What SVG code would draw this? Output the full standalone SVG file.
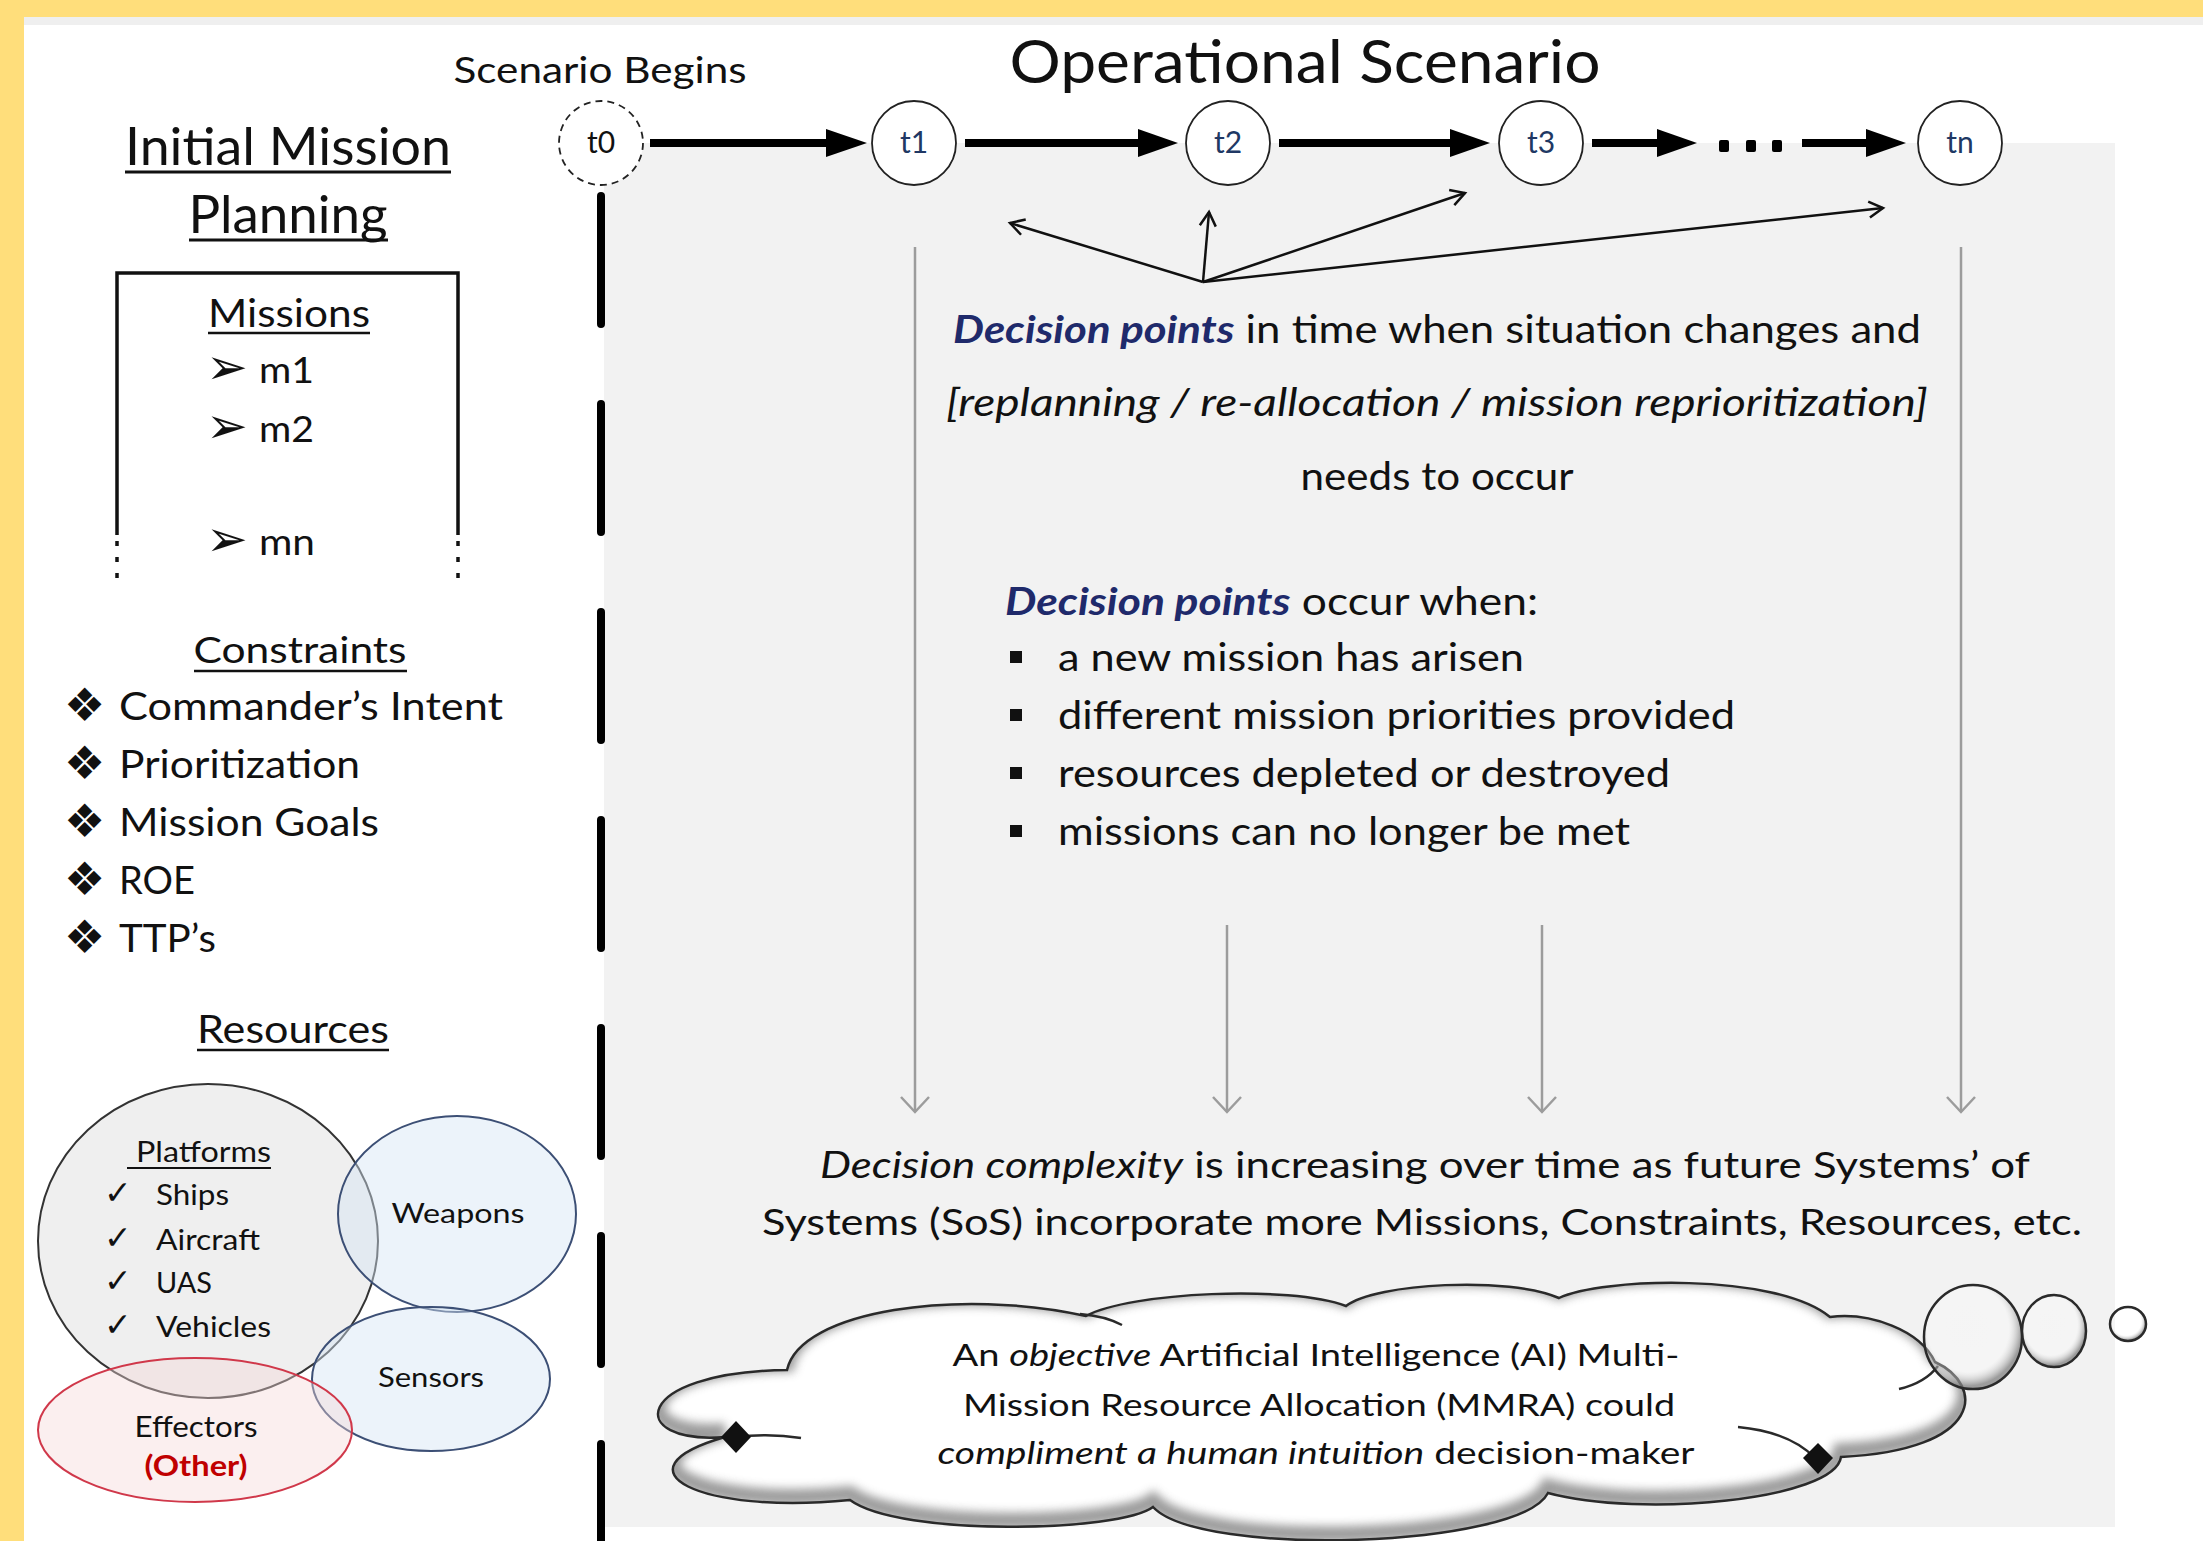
<svg xmlns="http://www.w3.org/2000/svg" width="2203" height="1541" viewBox="0 0 2203 1541">
<style>
  text { font-family: Lato, "Liberation Sans", sans-serif; fill: #111; }
  .sym { font-family: "DejaVu Sans", sans-serif; fill: #111; }
  .tl { font-size: 30px; fill: #203864; text-anchor: middle; }
  .ul { stroke: #111; stroke-width: 3; }
  .shaft { stroke: #000; stroke-width: 8; fill: none; }
  .head { fill: #000; }
  .dec { stroke: #111; stroke-width: 2.5; fill: none; marker-end: url(#openBlack); }
  .gray { stroke: #9c9c9c; stroke-width: 2.5; fill: none; marker-end: url(#openGray); }
  .dp { font-weight: bold; font-style: italic; fill: #1f2a6b; }
  .it { font-style: italic; }
  .node { fill: #fff; stroke: #222; stroke-width: 1.8; }
</style>
<defs>
  <marker id="openBlack" markerUnits="userSpaceOnUse" markerWidth="40" markerHeight="40" refX="20" refY="20" orient="auto" overflow="visible">
    <path d="M6,12 L20,20 L6,28" fill="none" stroke="#111" stroke-width="2.5"/>
  </marker>
  <marker id="openGray" markerUnits="userSpaceOnUse" markerWidth="40" markerHeight="40" refX="20" refY="20" orient="auto" overflow="visible">
    <path d="M5,6 L20,20 L5,34" fill="none" stroke="#9c9c9c" stroke-width="2.5"/>
  </marker>
  <filter id="blur" x="-10%" y="-10%" width="120%" height="120%">
    <feGaussianBlur stdDeviation="5"/>
  </filter>
  <radialGradient id="bub" cx="45%" cy="42%" r="55%">
    <stop offset="0" stop-color="#ffffff" stop-opacity="0.2"/>
    <stop offset="0.75" stop-color="#ffffff" stop-opacity="0.25"/>
    <stop offset="1" stop-color="#808080" stop-opacity="0.75"/>
  </radialGradient>
  <path id="cloudPath" d="M725,1437 C625,1445 630,1372 787,1370 C800,1310 960,1288 1086,1316 C1130,1292 1290,1285 1346,1306 C1375,1283 1510,1276 1559,1298 C1600,1278 1775,1272 1830,1317 C1870,1312 1920,1330 1935,1362 C1985,1385 1985,1450 1841,1457 C1835,1500 1640,1518 1548,1493 C1520,1548 1200,1558 1153,1507 C1120,1532 900,1537 850,1500 C700,1515 610,1470 725,1437 Z"/>
  <clipPath id="cloudClip"><use href="#cloudPath"/></clipPath>
</defs>

<!-- background -->
<rect x="0" y="0" width="2203" height="1541" fill="#FFDE7B"/>
<rect x="24" y="17" width="2179" height="1524" fill="#ffffff"/>
<rect x="24" y="17" width="2179" height="8" fill="#efefef"/>
<rect x="604" y="143" width="1511" height="1384" fill="#f2f2f2"/>

<!-- scenario dashed divider -->
<line x1="601" y1="196" x2="601" y2="1545" stroke="#000" stroke-width="8" stroke-linecap="round" stroke-dasharray="128 80"/>

<!-- titles -->
<g id="title-scenario-begins"><text x="600" y="83" font-size="36" text-anchor="middle" textLength="293" lengthAdjust="spacingAndGlyphs">Scenario Begins</text></g>
<g id="title-operational"><text x="1305" y="83" font-size="60" text-anchor="middle" textLength="591" lengthAdjust="spacingAndGlyphs">Operational Scenario</text></g>

<!-- Initial Mission Planning -->
<g id="initial-mission-planning">
  <text x="288" y="165" font-size="52" text-anchor="middle" textLength="326" lengthAdjust="spacingAndGlyphs">Initial Mission</text>
  <line class="ul" x1="125" y1="172" x2="451" y2="172"/>
  <text x="288" y="233" font-size="52" text-anchor="middle" textLength="199" lengthAdjust="spacingAndGlyphs">Planning</text>
  <line class="ul" x1="189" y1="240" x2="388" y2="240"/>
</g>

<!-- Missions box -->
<g id="missions">
  <path d="M117,535 L117,273 L458,273 L458,535" fill="none" stroke="#111" stroke-width="3.5"/>
  <line x1="117" y1="541" x2="117" y2="582" stroke="#111" stroke-width="3.5" stroke-dasharray="5 11"/>
  <line x1="458" y1="541" x2="458" y2="582" stroke="#111" stroke-width="3.5" stroke-dasharray="5 11"/>
  <text x="289" y="327" font-size="38" text-anchor="middle" textLength="162" lengthAdjust="spacingAndGlyphs">Missions</text>
  <line class="ul" x1="208" y1="333" x2="370" y2="333" style="stroke-width:2.5"/>
  <text class="sym" x="206" y="384" font-size="50">➢</text>
  <text x="259" y="383" font-size="36" textLength="55" lengthAdjust="spacingAndGlyphs">m1</text>
  <text class="sym" x="206" y="443" font-size="50">➢</text>
  <text x="259" y="442" font-size="36" textLength="55" lengthAdjust="spacingAndGlyphs">m2</text>
  <text class="sym" x="206" y="556" font-size="50">➢</text>
  <text x="259" y="555" font-size="36" textLength="56" lengthAdjust="spacingAndGlyphs">mn</text>
</g>

<!-- Constraints -->
<g id="constraints">
  <text x="300" y="663" font-size="37" text-anchor="middle" textLength="213" lengthAdjust="spacingAndGlyphs">Constraints</text>
  <line class="ul" x1="194" y1="671" x2="407" y2="671" style="stroke-width:2.5"/>
  <text class="sym" x="64" y="721" font-size="46">❖</text>
  <text x="119" y="720" font-size="38" textLength="384" lengthAdjust="spacingAndGlyphs">Commander’s Intent</text>
  <text class="sym" x="64" y="779" font-size="46">❖</text>
  <text x="119" y="778" font-size="38" textLength="241" lengthAdjust="spacingAndGlyphs">Prioritization</text>
  <text class="sym" x="64" y="837" font-size="46">❖</text>
  <text x="119" y="836" font-size="38" textLength="260" lengthAdjust="spacingAndGlyphs">Mission Goals</text>
  <text class="sym" x="64" y="895" font-size="46">❖</text>
  <text x="119" y="894" font-size="38" textLength="76" lengthAdjust="spacingAndGlyphs">ROE</text>
  <text class="sym" x="64" y="953" font-size="46">❖</text>
  <text x="119" y="952" font-size="38" textLength="97" lengthAdjust="spacingAndGlyphs">TTP’s</text>
</g>

<!-- Resources -->
<g id="resources">
  <text x="293" y="1043" font-size="38" text-anchor="middle" textLength="192" lengthAdjust="spacingAndGlyphs">Resources</text>
  <line class="ul" x1="197" y1="1050" x2="389" y2="1050" style="stroke-width:2.5"/>
</g>

<!-- Venn -->
<g id="platforms">
  <ellipse cx="208" cy="1241" rx="170" ry="157" fill="#d6d6d6" fill-opacity="0.4" stroke="#333" stroke-width="2"/>
  <text x="136" y="1162" font-size="28" textLength="135" lengthAdjust="spacingAndGlyphs">Platforms</text>
  <line class="ul" x1="127" y1="1168" x2="271" y2="1168" style="stroke-width:2"/>
  <text class="sym" x="104" y="1204" font-size="33">✓</text>
  <text x="156" y="1205" font-size="28" textLength="73" lengthAdjust="spacingAndGlyphs">Ships</text>
  <text class="sym" x="104" y="1249" font-size="33">✓</text>
  <text x="156" y="1250" font-size="28" textLength="104" lengthAdjust="spacingAndGlyphs">Aircraft</text>
  <text class="sym" x="104" y="1292" font-size="33">✓</text>
  <text x="156" y="1293" font-size="28" textLength="56" lengthAdjust="spacingAndGlyphs">UAS</text>
  <text class="sym" x="104" y="1336" font-size="33">✓</text>
  <text x="156" y="1337" font-size="28" textLength="115" lengthAdjust="spacingAndGlyphs">Vehicles</text>
</g>
<g id="weapons">
  <ellipse cx="457" cy="1214" rx="119" ry="98" fill="#d5e5f4" fill-opacity="0.45" stroke="#3c4f75" stroke-width="2"/>
  <text x="458" y="1223" font-size="27" text-anchor="middle" textLength="133" lengthAdjust="spacingAndGlyphs">Weapons</text>
</g>
<g id="sensors">
  <ellipse cx="431" cy="1379" rx="119" ry="72" fill="#d5e5f4" fill-opacity="0.45" stroke="#3c4f75" stroke-width="2"/>
  <text x="431" y="1387" font-size="27" text-anchor="middle" textLength="106" lengthAdjust="spacingAndGlyphs">Sensors</text>
</g>
<g id="effectors">
  <ellipse cx="195" cy="1430" rx="157" ry="72" fill="#f6d6d6" fill-opacity="0.4" stroke="#d0384a" stroke-width="2"/>
  <text x="196" y="1437" font-size="28" text-anchor="middle" textLength="123" lengthAdjust="spacingAndGlyphs">Effectors</text>
  <text x="196" y="1476" font-size="28" font-weight="bold" text-anchor="middle" style="fill:#c00000" textLength="103" lengthAdjust="spacingAndGlyphs">(Other)</text>
</g>

<!-- connectors -->
<g id="connectors">
  <line class="shaft" x1="650" y1="143" x2="830" y2="143"/>
  <polygon class="head" points="826,129 867,143 826,157"/>
  <line class="shaft" x1="965" y1="143" x2="1142" y2="143"/>
  <polygon class="head" points="1138,129 1178,143 1138,157"/>
  <line class="shaft" x1="1279" y1="143" x2="1454" y2="143"/>
  <polygon class="head" points="1450,129 1490,143 1450,157"/>
  <line class="shaft" x1="1592" y1="143" x2="1661" y2="143"/>
  <polygon class="head" points="1657,129 1697,143 1657,157"/>
  <rect x="1719" y="140" width="10" height="12" rx="2" fill="#000"/>
  <rect x="1746" y="140" width="10" height="12" rx="2" fill="#000"/>
  <rect x="1772" y="140" width="10" height="12" rx="2" fill="#000"/>
  <line class="shaft" x1="1802" y1="143" x2="1870" y2="143"/>
  <polygon class="head" points="1866,129 1906,143 1866,157"/>

  <line class="dec" x1="1203" y1="282" x2="1010" y2="223"/>
  <line class="dec" x1="1203" y1="282" x2="1209" y2="212"/>
  <line class="dec" x1="1203" y1="282" x2="1465" y2="193"/>
  <line class="dec" x1="1203" y1="282" x2="1883" y2="208"/>

  <line class="gray" x1="915" y1="247" x2="915" y2="1112"/>
  <line class="gray" x1="1227" y1="925" x2="1227" y2="1112"/>
  <line class="gray" x1="1542" y1="925" x2="1542" y2="1112"/>
  <line class="gray" x1="1961" y1="247" x2="1961" y2="1112"/>
</g>

<!-- timeline nodes -->
<g id="t0"><circle cx="601" cy="143" r="42" fill="#fff" stroke="#222" stroke-width="1.8" stroke-dasharray="7 5"/><text x="601" y="153" font-size="30" text-anchor="middle">t0</text></g>
<g id="t1"><circle class="node" cx="914" cy="143" r="42"/><text class="tl" x="914" y="153">t1</text></g>
<g id="t2"><circle class="node" cx="1228" cy="143" r="42"/><text class="tl" x="1228" y="153">t2</text></g>
<g id="t3"><circle class="node" cx="1541" cy="143" r="42"/><text class="tl" x="1541" y="153">t3</text></g>
<g id="tn"><circle class="node" cx="1960" cy="143" r="42"/><text class="tl" x="1960" y="153">tn</text></g>

<!-- decision text -->
<g id="decision-points">
  <text x="1437" y="343" font-size="38" text-anchor="middle" textLength="968" lengthAdjust="spacingAndGlyphs"><tspan class="dp">Decision points</tspan> in time when situation changes and</text>
  <text x="1437" y="416" font-size="38" text-anchor="middle" font-style="italic" textLength="982" lengthAdjust="spacingAndGlyphs">[replanning / re-allocation / mission reprioritization]</text>
  <text x="1437" y="490" font-size="38" text-anchor="middle" textLength="273" lengthAdjust="spacingAndGlyphs">needs to occur</text>
</g>
<g id="decision-occur">
  <text x="1005" y="615" font-size="38" textLength="533" lengthAdjust="spacingAndGlyphs"><tspan class="dp">Decision points</tspan> occur when:</text>
  <rect x="1010" y="651" width="12" height="12" fill="#111"/>
  <text x="1058" y="671" font-size="38" textLength="466" lengthAdjust="spacingAndGlyphs">a new mission has arisen</text>
  <rect x="1010" y="709" width="12" height="12" fill="#111"/>
  <text x="1058" y="729" font-size="38" textLength="677" lengthAdjust="spacingAndGlyphs">different mission priorities provided</text>
  <rect x="1010" y="767" width="12" height="12" fill="#111"/>
  <text x="1058" y="787" font-size="38" textLength="612" lengthAdjust="spacingAndGlyphs">resources depleted or destroyed</text>
  <rect x="1010" y="825" width="12" height="12" fill="#111"/>
  <text x="1058" y="845" font-size="38" textLength="572" lengthAdjust="spacingAndGlyphs">missions can no longer be met</text>
</g>
<g id="decision-complexity">
  <text x="1425" y="1178" font-size="36" text-anchor="middle" textLength="1210" lengthAdjust="spacingAndGlyphs"><tspan class="it">Decision complexity</tspan> is increasing over time as future Systems’ of</text>
  <text x="1422" y="1235" font-size="36" text-anchor="middle" textLength="1320" lengthAdjust="spacingAndGlyphs">Systems (SoS) incorporate more Missions, Constraints, Resources, etc.</text>
</g>

<!-- thought cloud -->
<g id="ai-cloud">
  <use href="#cloudPath" fill="#ffffff"/>
  <g clip-path="url(#cloudClip)">
    <use href="#cloudPath" fill="none" stroke="#7a7a7a" stroke-width="16" transform="translate(0,-6)" filter="url(#blur)" opacity="0.75"/>
  </g>
  <use href="#cloudPath" fill="none" stroke="#2a2a2a" stroke-width="2.5"/>
  <path d="M1080,1314 Q1105,1316 1122,1325" fill="none" stroke="#2a2a2a" stroke-width="2.5"/>
  <path d="M1938,1366 Q1925,1383 1899,1389" fill="none" stroke="#2a2a2a" stroke-width="2.5"/>
  <path d="M736,1437 Q770,1433 801,1438" fill="none" stroke="#2a2a2a" stroke-width="2.5"/>
  <path d="M1738,1427 Q1790,1432 1815,1458" fill="none" stroke="#2a2a2a" stroke-width="2.5"/>
  <polygon points="736,1421 751,1437 736,1453 721,1437" fill="#111"/>
  <polygon points="1818,1443 1833,1458 1818,1474 1803,1458" fill="#111"/>
  <ellipse cx="1973" cy="1337" rx="49" ry="52" fill="url(#bub)" stroke="#2a2a2a" stroke-width="2.5"/>
  <ellipse cx="2054" cy="1331" rx="32" ry="36" fill="url(#bub)" stroke="#2a2a2a" stroke-width="2.5"/>
  <ellipse cx="2128" cy="1324" rx="18" ry="17" fill="url(#bub)" stroke="#2a2a2a" stroke-width="2.5"/>
  <text x="1316" y="1366" font-size="30" text-anchor="middle" textLength="727" lengthAdjust="spacingAndGlyphs">An <tspan class="it">objective</tspan> Artificial Intelligence (AI) Multi-</text>
  <text x="1319" y="1416" font-size="30" text-anchor="middle" textLength="712" lengthAdjust="spacingAndGlyphs">Mission Resource Allocation (MMRA) could</text>
  <text x="1316" y="1464" font-size="30" text-anchor="middle" textLength="757" lengthAdjust="spacingAndGlyphs"><tspan class="it">compliment a human intuition</tspan> decision-maker</text>
</g>
</svg>
